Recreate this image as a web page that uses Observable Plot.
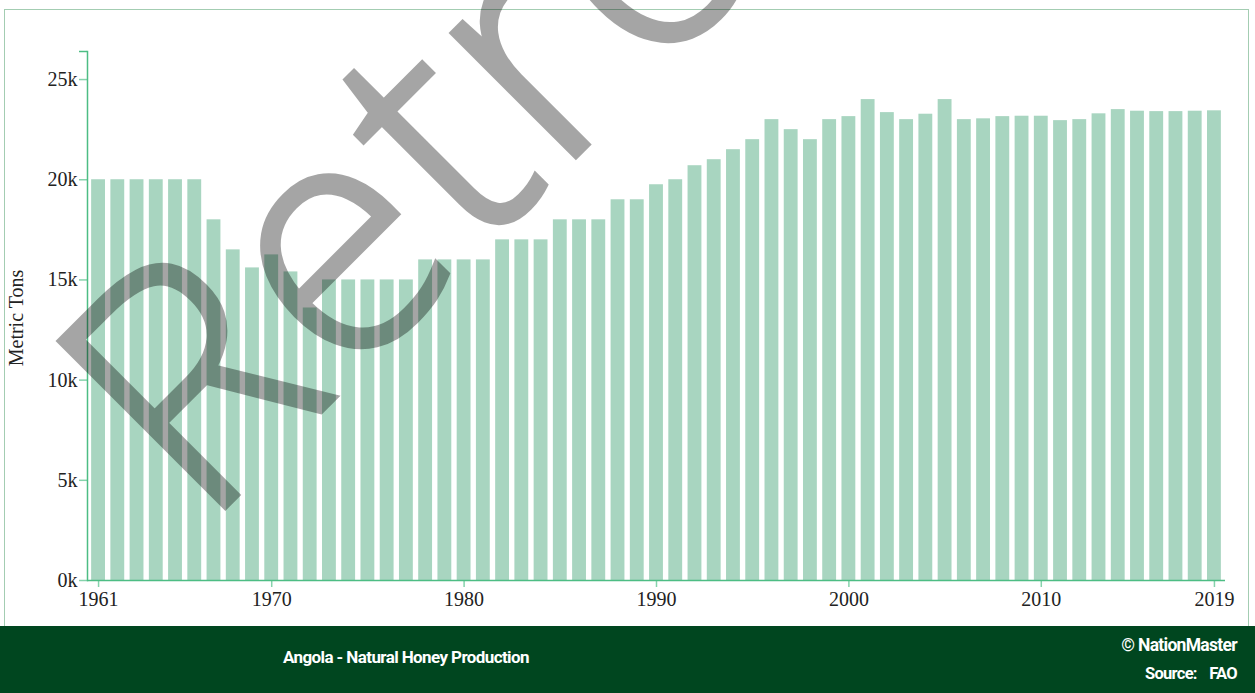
<!DOCTYPE html>
<html>
<head>
<meta charset="utf-8">
<script src="https://cdn.jsdelivr.net/npm/d3@7"></script>
<script src="https://cdn.jsdelivr.net/npm/@observablehq/plot@0.6"></script>
<style>
  html, body { margin: 0; padding: 0; background: #fff; }
  #page { position: relative; width: 1255px; height: 693px; overflow: hidden; background: #fff; }
  #border { position: absolute; left: 4px; top: 9px; width: 1245px; height: 640px; border: 1.5px solid #a3cdb2; box-sizing: border-box; }
  #chart { position: absolute; left: 0; top: 0; }
  #footer { position: absolute; left: 0; top: 626px; width: 1255px; height: 67px; background: #00461f; color: #fff;
            font-family: "Roboto", "Liberation Sans", sans-serif; font-weight: 700; }
  #title { position: absolute; left: 283px; top: 21px; font-size: 17px; letter-spacing: -0.6px; }
  #brand { position: absolute; right: 18px; top: 9px; font-size: 17.5px; letter-spacing: -0.7px; }
  #source { position: absolute; right: 18px; top: 38px; font-size: 16.5px; letter-spacing: -0.7px; word-spacing: 9px; }
  #wm { position: absolute; left: 0; top: 0; pointer-events: none; }
</style>
</head>
<body>
<div id="page">
  <div id="border"></div>
  <div id="chart"></div>
  <div id="footer">
    <div id="title">Angola - Natural Honey Production</div>
    <div id="brand">© NationMaster</div>
    <div id="source">Source: FAO</div>
  </div>
  <svg id="wm" width="1255" height="693">
    <g opacity="0.35">
      <text x="202" y="530" transform="rotate(-45 202 530)" font-family="Open Sans, sans-serif" font-weight="300" font-size="328" letter-spacing="5" fill="#000" stroke="#000" stroke-width="6" stroke-linejoin="miter">Retro</text>
    </g>
  </svg>
</div>
<script>
const years = [1961,1962,1963,1964,1965,1966,1967,1968,1969,1970,
  1971,1972,1973,1974,1975,1976,1977,1978,1979,1980,
  1981,1982,1983,1984,1985,1986,1987,1988,1989,1990,
  1991,1992,1993,1994,1995,1996,1997,1998,1999,2000,
  2001,2002,2003,2004,2005,2006,2007,2008,2009,2010,
  2011,2012,2013,2014,2015,2016,2017,2018,2019];
const production = [20000,20000,20000,20000,20000,20000,18000,16500,15600,16250,
  15400,13600,15000,15000,15000,15000,15000,16000,16000,16000,
  16000,17000,17000,17000,18000,18000,18000,19000,19000,19750,
  20000,20700,21000,21500,22000,23000,22500,22000,23000,23150,
  24000,23350,23000,23270,24000,23000,23040,23150,23170,23170,
  22950,23000,23290,23500,23420,23400,23400,23420,23440];
const xTickYears = [1961,1970,1980,1990,2000,2010,2019];
const yTickValues = [0,5000,10000,15000,20000,25000];
const yMax = 26400;

const data = years.map((year, i) => ({year, value: production[i]}));

const axisColor = "#4dbd84";
const tickColor = "#86d3ac";

const chart = Plot.plot({
  width: 1255,
  height: 626,
  marginLeft: 87,
  marginRight: 30,
  marginTop: 51,
  marginBottom: 46,
  style: {fontFamily: "Liberation Serif, serif", fontSize: "20px", color: "#222", background: "transparent", overflow: "visible"},
  x: {type: "band", domain: years, paddingInner: 0.28, paddingOuter: 0.215, round: false, label: null, axis: null},
  y: {domain: [0, yMax], label: null, axis: null},
  marks: [
    Plot.barY(data, {x: "year", y: "value", fill: "#a8d5c0"}),
    Plot.axisX({ticks: xTickYears, tickFormat: d => String(d), tickSize: 7, tickPadding: 4, stroke: tickColor, strokeWidth: 1.5, fill: "#222", label: null}),
    Plot.axisY({ticks: yTickValues, tickFormat: d => (d / 1000) + "k", tickSize: 8, tickPadding: 2, stroke: tickColor, strokeWidth: 1.5, fill: "#222", label: null}),
    Plot.axisY({ticks: [yMax], tickFormat: () => "", tickSize: 8, stroke: axisColor, strokeWidth: 1.5, label: null}),
    Plot.ruleY([0], {stroke: axisColor, strokeWidth: 1.5}),
    Plot.frame({anchor: "left", stroke: axisColor, strokeWidth: 1.5})
  ]
});
document.getElementById("chart").appendChild(chart);

// y axis title
const svg = d3.select(chart);
svg.append("text")
  .attr("transform", "translate(23,318) rotate(-90)")
  .attr("text-anchor", "middle")
  .attr("font-family", "Liberation Serif, serif")
  .attr("font-size", 20)
  .attr("fill", "#222")
  .text("Metric Tons");
</script>
</body>
</html>
